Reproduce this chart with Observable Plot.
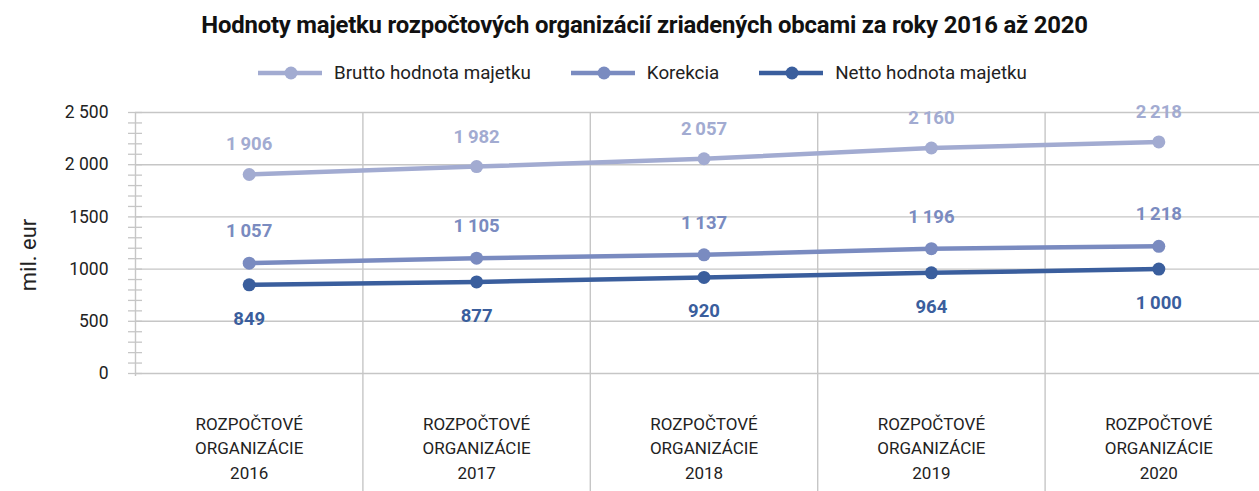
<!DOCTYPE html>
<html>
<head>
<meta charset="utf-8">
<script src="https://cdn.jsdelivr.net/npm/d3@7"></script>
<script src="https://cdn.jsdelivr.net/npm/@observablehq/plot@0.6"></script>
<style>
  body { margin: 0; background: #fff; font-family: "Roboto", sans-serif; }
  #title { height: 50px; line-height: 50px; text-align: center; font-weight: bold; font-size: 23.9px; color: #111; letter-spacing: -0.2px; padding-left: 30px; }
  #legend { height: 45px; display: flex; justify-content: center; align-items: center; font-size: 18.8px; color: #222; padding-left: 26px; }
  .item { display: flex; align-items: center; margin: 0 20px; }
  .item svg { margin-right: 12px; }
</style>
</head>
<body>
<div id="title">Hodnoty majetku rozpočtových organizácií zriadených obcami za roky 2016 až 2020</div>
<div id="legend"></div>
<div id="chart"></div>
<script>
const categories = ["2016", "2017", "2018", "2019", "2020"];
const categoryLines = ["ROZPOČTOVÉ", "ORGANIZÁCIE"];
const seriesNames = ["Brutto hodnota majetku", "Korekcia", "Netto hodnota majetku"];
const brutto = [1906, 1982, 2057, 2160, 2218];
const korekcia = [1057, 1105, 1137, 1196, 1218];
const netto = [849, 877, 920, 964, 1000];
const colors = ["#a2abd1", "#7a8bc0", "#3a5e9d"];
const yTicks = [0, 500, 1000, 1500, 2000, 2500];
const yTickLabels = ["0", "500", "1000", "1500", "2 000", "2 500"];
const yLabel = "mil. eur";

const seriesValues = [brutto, korekcia, netto];
const labelDy = [-30, -32, 34];
const rows = [];
seriesValues.forEach((vals, s) => vals.forEach((v, i) => rows.push({series: seriesNames[s], s, i, value: v})));

const fmt = v => v >= 1000 ? String(v).replace(/\B(?=(\d{3})+(?!\d))/g, "\u2009") : String(v);

// legend
const legend = document.getElementById("legend");
seriesNames.forEach((n, s) => {
  const d = document.createElement("div");
  d.className = "item";
  d.innerHTML = `<svg width="64" height="14"><line x1="0" y1="7" x2="64" y2="7" stroke="${colors[s]}" stroke-width="4.5"/><circle cx="33" cy="7" r="6.5" fill="${colors[s]}"/></svg><span>${n}</span>`;
  legend.appendChild(d);
});

const minor = d3.range(0, 2501, 100);
const bounds = categories.slice(1).map((c, i) => i + 0.5);

const chart = Plot.plot({
  width: 1259,
  height: 396,
  marginTop: 17,
  marginBottom: 118,
  marginLeft: 135,
  marginRight: 0,
  style: {fontFamily: '"Roboto", sans-serif', fontSize: "17px", color: "#222"},
  x: {domain: [-0.5, categories.length - 0.5], range: [135, 1272], axis: null},
  y: {domain: [0, 2500], axis: null},
  marks: [
    Plot.gridY(yTicks, {stroke: "#c6c6c6", strokeOpacity: 1, strokeWidth: 1.4}),
    Plot.ruleX(bounds, {stroke: "#c6c6c6", strokeWidth: 1.4, insetBottom: -118}),
    Plot.ruleX([-0.5], {stroke: "#c6c6c6", strokeWidth: 1.4, insetBottom: -3}),
    Plot.ruleY(minor, {y: d => d, x1: -0.5, x2: -0.5, insetLeft: -7, insetRight: -7, stroke: "#c6c6c6", strokeWidth: 1.3}),
    Plot.text(yTicks, {x: -0.5, y: d => d, text: (d, i) => yTickLabels[i], textAnchor: "end", dx: -27, fontSize: 17.5, fill: "#222"}),
    Plot.line(rows, {x: "i", y: "value", z: "series", stroke: d => colors[d.s], strokeWidth: 4.5}),
    Plot.dot(rows, {x: "i", y: "value", r: 6.5, fill: d => colors[d.s], stroke: "none"}),
    ...seriesValues.map((vals, s) =>
      Plot.text(rows.filter(r => r.s === s), {x: "i", y: "value", text: d => fmt(d.value), dy: labelDy[s], fill: colors[s], fontWeight: "bold", fontSize: 18.5, letterSpacing: "-0.3px"})
    ),
    Plot.text(categories, {x: (d, i) => i, y: 0, text: d => [...categoryLines, d].join("\n"), dy: 73, lineHeight: 1.45, fontSize: 17, fill: "#222"})
  ]
});
document.getElementById("chart").appendChild(chart);

// y label
const svg = d3.select(chart);
svg.append("text")
  .attr("transform", `translate(36, ${255 - 95}) rotate(-90)`)
  .attr("text-anchor", "middle")
  .attr("font-size", 22)
  .attr("fill", "#222")
  .text(yLabel);
</script>
</body>
</html>
